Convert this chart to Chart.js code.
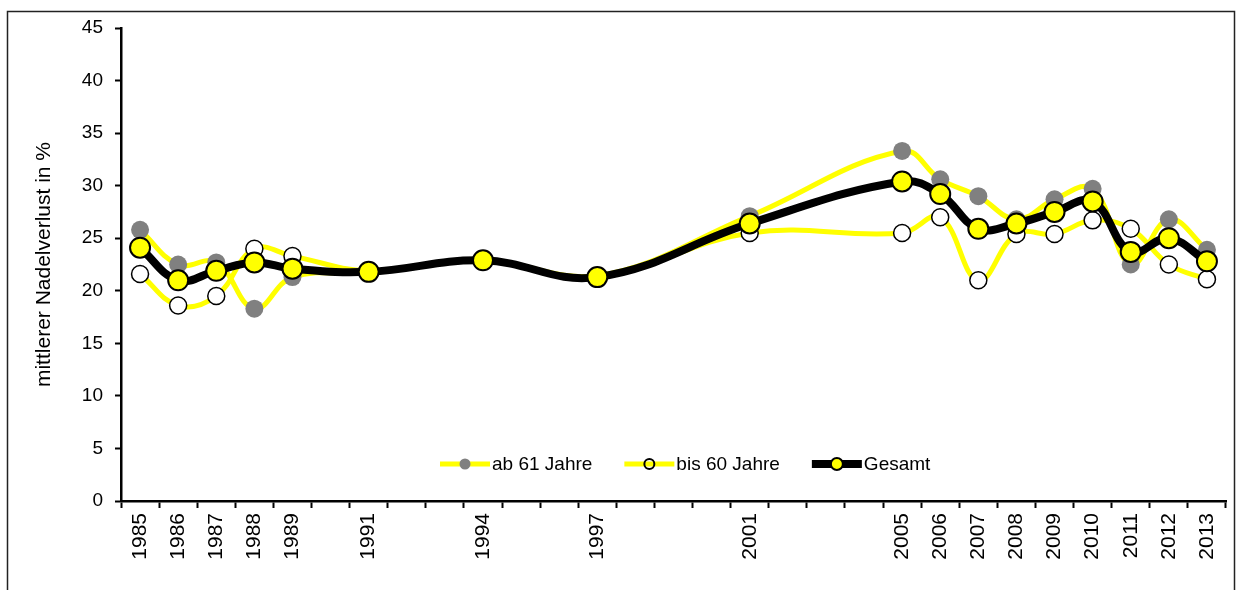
<!DOCTYPE html>
<html>
<head>
<meta charset="utf-8">
<script src="https://cdn.jsdelivr.net/npm/chart.js@4.4.1/dist/chart.umd.min.js"></script>
<style>
  html, body { margin: 0; padding: 0; background: #fff; }
  #wrap { width: 1243px; height: 590px; }
</style>
</head>
<body>
<div id="wrap"><canvas id="chart"></canvas></div>
<script>
// years with survey values, the axis runs over every year from first to last
const surveyYears = [1985, 1986, 1987, 1988, 1989, 1991, 1994, 1997, 2001, 2005, 2006, 2007, 2008, 2009, 2010, 2011, 2012, 2013];
const ab61 =   [25.8, 22.5, 22.7, 18.3, 21.3, 21.7, 22.9, 21.4, 27.1, 33.3, 30.6, 29.0, 26.8, 28.7, 29.7, 22.5, 26.8, 23.9];
const bis60 =  [21.6, 18.6, 19.5, 24.0, 23.3, 21.9, 22.9, 21.4, 25.5, 25.5, 27.0, 21.0, 25.4, 25.4, 26.7, 25.9, 22.5, 21.1];
const gesamt = [24.1, 21.0, 21.9, 22.7, 22.1, 21.8, 22.9, 21.3, 26.4, 30.4, 29.2, 25.9, 26.4, 27.5, 28.5, 23.7, 25.0, 22.8];
const yMin = 0, yMax = 45, yStep = 5;

const FONT = '"Liberation Sans", Arial, sans-serif';

const allYears = [];
for (let y = surveyYears[0]; y <= surveyYears[surveyYears.length - 1]; y++) allYears.push(String(y));

// spread series over the full year axis, gaps are spanned
function spread(values) {
  return allYears.map(y => {
    const i = surveyYears.indexOf(+y);
    return i < 0 ? null : values[i];
  });
}

// frame round the whole figure
const framePlugin = {
  id: 'frame',
  beforeDraw(chart) {
    const ctx = chart.ctx;
    ctx.save();
    ctx.fillStyle = '#fff';
    ctx.fillRect(0, 0, chart.width, chart.height);
    ctx.strokeStyle = '#222';
    ctx.lineWidth = 1.5;
    ctx.strokeRect(7.5, 11.5, chart.width - 16, chart.height + 20);
    ctx.restore();
  }
};

// legend sits inside the plot, line + marker per entry
const innerLegend = {
  id: 'innerLegend',
  afterDatasetsDraw(chart) {
    const { ctx, chartArea } = chart;
    const y = chartArea.bottom - 37;
    let x = chartArea.left + 319;
    ctx.save();
    ctx.font = '19px ' + FONT;
    ctx.textBaseline = 'middle';
    chart.data.datasets.forEach(ds => {
      ctx.strokeStyle = ds.borderColor;
      ctx.lineWidth = ds.borderWidth;
      ctx.beginPath();
      ctx.moveTo(x, y);
      ctx.lineTo(x + 50, y);
      ctx.stroke();
      ctx.beginPath();
      ctx.arc(x + 25, y, ds.legendRadius, 0, Math.PI * 2);
      if (ds.legendFill) { ctx.fillStyle = ds.legendFill; ctx.fill(); }
      if (ds.pointBorderWidth) {
        ctx.lineWidth = 2;
        ctx.strokeStyle = ds.pointBorderColor;
        ctx.stroke();
      }
      ctx.fillStyle = '#000';
      ctx.fillText(ds.label, x + 52, y + 1);
      x += 52 + ctx.measureText(ds.label).width + 32;
    });
    ctx.restore();
  }
};

new Chart(document.getElementById('chart'), {
  type: 'line',
  data: {
    labels: allYears,
    datasets: [
      {
        label: 'ab 61 Jahre',
        data: spread(ab61),
        order: 2,
        borderColor: '#ffff00',
        borderWidth: 5,
        tension: 0.4,
        pointRadius: 9,
        pointBackgroundColor: '#808080',
        pointBorderWidth: 0,
        pointBorderColor: '#808080',
        legendRadius: 5.5,
        legendFill: '#808080'
      },
      {
        label: 'bis 60 Jahre',
        data: spread(bis60),
        order: 1,
        borderColor: '#ffff00',
        borderWidth: 5,
        tension: 0.4,
        pointRadius: 8.5,
        pointBackgroundColor: '#ffffff',
        pointBorderColor: '#000',
        pointBorderWidth: 1.5,
        legendRadius: 5,
        legendFill: null
      },
      {
        label: 'Gesamt',
        data: spread(gesamt),
        order: 0,
        borderColor: '#000',
        borderWidth: 8,
        tension: 0.4,
        pointRadius: 10,
        pointBackgroundColor: '#ffff00',
        pointBorderColor: '#000',
        pointBorderWidth: 2,
        legendRadius: 6,
        legendFill: '#ffff00'
      }
    ]
  },
  options: {
    responsive: true,
    maintainAspectRatio: false,
    animation: false,
    spanGaps: true,
    layout: { padding: { left: 0, top: 28, right: 17, bottom: 0 } },
    plugins: {
      legend: { display: false },
      tooltip: { enabled: false }
    },
    scales: {
      x: {
        type: 'category',
        offset: true,
        border: { color: '#000', width: 2.5 },
        grid: {
          offset: true,
          drawOnChartArea: false,
          drawTicks: true,
          tickLength: 7,
          tickColor: '#000',
          tickWidth: 2
        },
        ticks: {
          autoSkip: false,
          minRotation: 90,
          maxRotation: 90,
          padding: 5,
          color: '#000',
          font: { family: FONT, size: 21 },
          callback(val, i) {
            const y = allYears[i];
            return surveyYears.includes(+y) ? y : '';
          }
        },
        afterFit(scale) { scale.height = 89; }
      },
      y: {
        min: yMin,
        max: yMax,
        border: { color: '#000', width: 2.5 },
        grid: {
          drawOnChartArea: false,
          drawTicks: true,
          tickLength: 6,
          tickColor: '#000',
          tickWidth: 2
        },
        ticks: {
          stepSize: yStep,
          padding: 12,
          color: '#000',
          font: { family: FONT, size: 19 }
        },
        title: {
          display: true,
          text: 'mittlerer Nadelverlust in %',
          color: '#000',
          font: { family: FONT, size: 21 },
          padding: { top: 32, bottom: 0 }
        },
        afterFit(scale) { scale.width = 121; }
      }
    }
  },
  plugins: [framePlugin, innerLegend]
});
</script>
</body>
</html>
